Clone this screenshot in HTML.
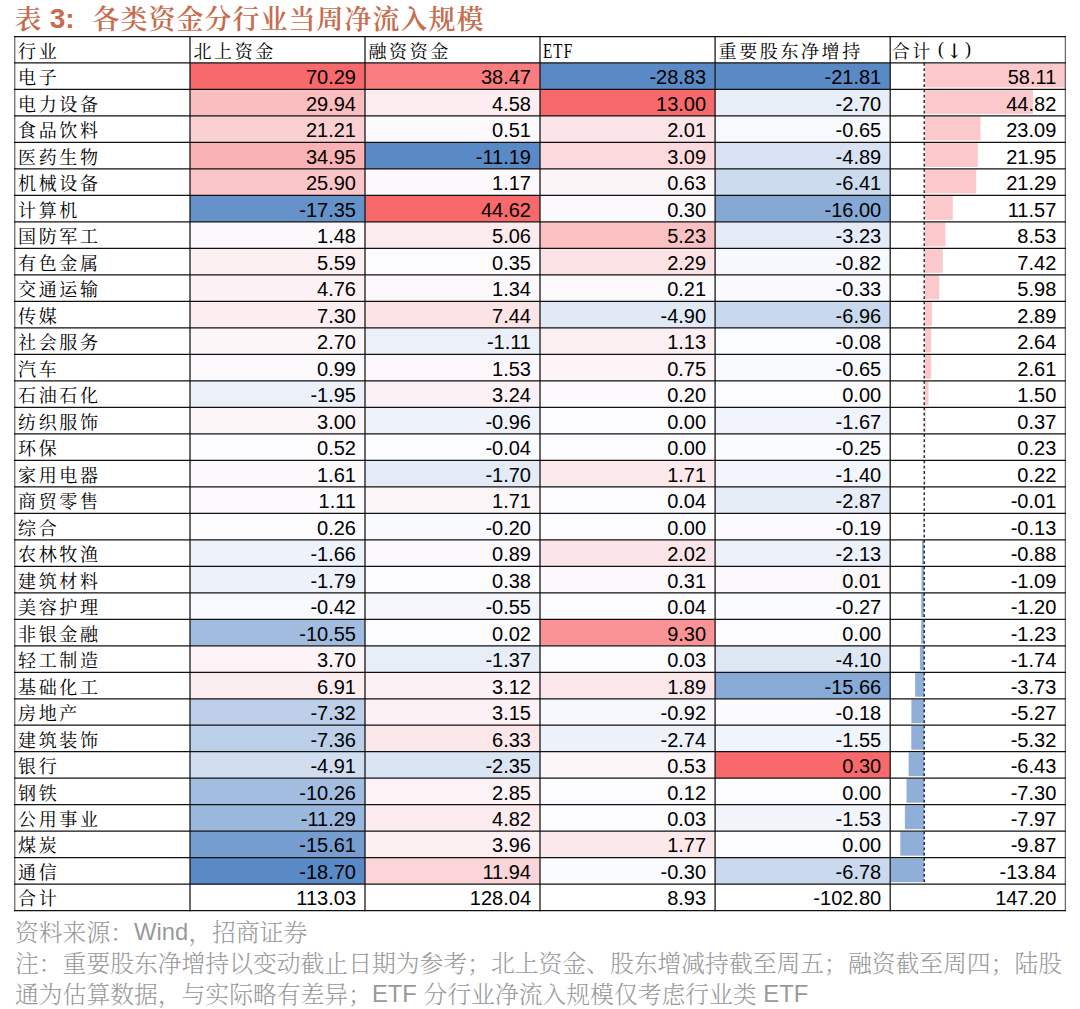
<!DOCTYPE html>
<html lang="zh-CN"><head><meta charset="utf-8"><title>表3 各类资金分行业当周净流入规模</title>
<style>
html,body{margin:0;padding:0;background:#fff;}
body{width:1080px;height:1009px;overflow:hidden;position:relative;}
svg{position:absolute;left:0;top:0;}
.h{font-family:"Liberation Serif","Noto Serif CJK SC",serif;font-size:18px;fill:#000;letter-spacing:2.6px;}
.e{font-family:"Liberation Serif",serif;font-size:20px;fill:#000;}
.p{font-family:"Liberation Serif",serif;font-size:18px;fill:#000;}
.ar{font-family:"DejaVu Serif",serif;font-size:20px;fill:#000;}
.n{font-family:"Liberation Sans",Arial,sans-serif;font-size:20px;fill:#000;text-anchor:end;}
.t{font-family:"Liberation Sans","Noto Serif CJK SC",serif;font-size:28px;fill:#c76c4e;font-weight:600;}
.f{font-family:"Liberation Sans","Noto Serif CJK SC",serif;font-size:23.8px;fill:#999999;font-weight:300;}
.fl{font-weight:400;fill:#999999;}
</style></head><body>
<svg width="1080" height="1009" viewBox="0 0 1080 1009">
<rect x="190.00" y="62.99" width="175.00" height="26.49" fill="#f8696b"/>
<rect x="190.00" y="89.48" width="175.00" height="26.49" fill="#fabdc0"/>
<rect x="190.00" y="115.97" width="175.00" height="26.49" fill="#fbd0d2"/>
<rect x="190.00" y="142.46" width="175.00" height="26.49" fill="#fab3b5"/>
<rect x="190.00" y="168.95" width="175.00" height="26.49" fill="#fbc6c8"/>
<rect x="190.00" y="195.44" width="175.00" height="26.49" fill="#6692ca"/>
<rect x="190.00" y="221.93" width="175.00" height="26.49" fill="#fcf9fc"/>
<rect x="190.00" y="248.42" width="175.00" height="26.49" fill="#fcf0f3"/>
<rect x="190.00" y="274.91" width="175.00" height="26.49" fill="#fcf2f5"/>
<rect x="190.00" y="301.40" width="175.00" height="26.49" fill="#fcedf0"/>
<rect x="190.00" y="327.89" width="175.00" height="26.49" fill="#fcf6f9"/>
<rect x="190.00" y="354.38" width="175.00" height="26.49" fill="#fcfafd"/>
<rect x="190.00" y="380.87" width="175.00" height="26.49" fill="#ebf0f9"/>
<rect x="190.00" y="407.36" width="175.00" height="26.49" fill="#fcf6f9"/>
<rect x="190.00" y="433.85" width="175.00" height="26.49" fill="#fcfbfe"/>
<rect x="190.00" y="460.34" width="175.00" height="26.49" fill="#fcf9fc"/>
<rect x="190.00" y="486.83" width="175.00" height="26.49" fill="#fcfafd"/>
<rect x="190.00" y="513.32" width="175.00" height="26.49" fill="#fcfbfe"/>
<rect x="190.00" y="539.81" width="175.00" height="26.49" fill="#eef2fa"/>
<rect x="190.00" y="566.30" width="175.00" height="26.49" fill="#ecf1fa"/>
<rect x="190.00" y="592.79" width="175.00" height="26.49" fill="#f8f9fe"/>
<rect x="190.00" y="619.28" width="175.00" height="26.49" fill="#a1bcdf"/>
<rect x="190.00" y="645.77" width="175.00" height="26.49" fill="#fcf4f7"/>
<rect x="190.00" y="672.26" width="175.00" height="26.49" fill="#fceef0"/>
<rect x="190.00" y="698.75" width="175.00" height="26.49" fill="#bdcfe9"/>
<rect x="190.00" y="725.24" width="175.00" height="26.49" fill="#bccfe9"/>
<rect x="190.00" y="751.73" width="175.00" height="26.49" fill="#d1def0"/>
<rect x="190.00" y="778.22" width="175.00" height="26.49" fill="#a3bde0"/>
<rect x="190.00" y="804.71" width="175.00" height="26.49" fill="#9ab7dd"/>
<rect x="190.00" y="831.20" width="175.00" height="26.49" fill="#759dcf"/>
<rect x="190.00" y="857.69" width="175.00" height="26.49" fill="#5a8ac6"/>
<rect x="365.00" y="62.99" width="175.00" height="26.49" fill="#f97d7f"/>
<rect x="365.00" y="89.48" width="175.00" height="26.49" fill="#fcedf0"/>
<rect x="365.00" y="115.97" width="175.00" height="26.49" fill="#fcfafd"/>
<rect x="365.00" y="142.46" width="175.00" height="26.49" fill="#5a8ac6"/>
<rect x="365.00" y="168.95" width="175.00" height="26.49" fill="#fcf8fb"/>
<rect x="365.00" y="195.44" width="175.00" height="26.49" fill="#f8696b"/>
<rect x="365.00" y="221.93" width="175.00" height="26.49" fill="#fcebee"/>
<rect x="365.00" y="248.42" width="175.00" height="26.49" fill="#fcfbfe"/>
<rect x="365.00" y="274.91" width="175.00" height="26.49" fill="#fcf8fb"/>
<rect x="365.00" y="301.40" width="175.00" height="26.49" fill="#fbe3e6"/>
<rect x="365.00" y="327.89" width="175.00" height="26.49" fill="#ecf1f9"/>
<rect x="365.00" y="354.38" width="175.00" height="26.49" fill="#fcf7fa"/>
<rect x="365.00" y="380.87" width="175.00" height="26.49" fill="#fcf1f4"/>
<rect x="365.00" y="407.36" width="175.00" height="26.49" fill="#eef2fa"/>
<rect x="365.00" y="433.85" width="175.00" height="26.49" fill="#fbfcff"/>
<rect x="365.00" y="460.34" width="175.00" height="26.49" fill="#e3ebf6"/>
<rect x="365.00" y="486.83" width="175.00" height="26.49" fill="#fcf6f9"/>
<rect x="365.00" y="513.32" width="175.00" height="26.49" fill="#f9fafe"/>
<rect x="365.00" y="539.81" width="175.00" height="26.49" fill="#fcf9fc"/>
<rect x="365.00" y="566.30" width="175.00" height="26.49" fill="#fcfbfe"/>
<rect x="365.00" y="592.79" width="175.00" height="26.49" fill="#f4f6fc"/>
<rect x="365.00" y="619.28" width="175.00" height="26.49" fill="#fcfcff"/>
<rect x="365.00" y="645.77" width="175.00" height="26.49" fill="#e8eef8"/>
<rect x="365.00" y="672.26" width="175.00" height="26.49" fill="#fcf2f5"/>
<rect x="365.00" y="698.75" width="175.00" height="26.49" fill="#fcf2f5"/>
<rect x="365.00" y="725.24" width="175.00" height="26.49" fill="#fbe7ea"/>
<rect x="365.00" y="751.73" width="175.00" height="26.49" fill="#dae4f3"/>
<rect x="365.00" y="778.22" width="175.00" height="26.49" fill="#fcf3f6"/>
<rect x="365.00" y="804.71" width="175.00" height="26.49" fill="#fcecef"/>
<rect x="365.00" y="831.20" width="175.00" height="26.49" fill="#fceff2"/>
<rect x="365.00" y="857.69" width="175.00" height="26.49" fill="#fbd5d7"/>
<rect x="540.00" y="62.99" width="175.10" height="26.49" fill="#5a8ac6"/>
<rect x="540.00" y="89.48" width="175.10" height="26.49" fill="#f8696b"/>
<rect x="540.00" y="115.97" width="175.10" height="26.49" fill="#fbe5e8"/>
<rect x="540.00" y="142.46" width="175.10" height="26.49" fill="#fbd9dc"/>
<rect x="540.00" y="168.95" width="175.10" height="26.49" fill="#fcf5f8"/>
<rect x="540.00" y="195.44" width="175.10" height="26.49" fill="#fcf9fc"/>
<rect x="540.00" y="221.93" width="175.10" height="26.49" fill="#fac1c3"/>
<rect x="540.00" y="248.42" width="175.10" height="26.49" fill="#fbe2e5"/>
<rect x="540.00" y="274.91" width="175.10" height="26.49" fill="#fcfafd"/>
<rect x="540.00" y="301.40" width="175.10" height="26.49" fill="#e0e9f5"/>
<rect x="540.00" y="327.89" width="175.10" height="26.49" fill="#fceff2"/>
<rect x="540.00" y="354.38" width="175.10" height="26.49" fill="#fcf4f6"/>
<rect x="540.00" y="380.87" width="175.10" height="26.49" fill="#fcfafd"/>
<rect x="540.00" y="407.36" width="175.10" height="26.49" fill="#fcfcff"/>
<rect x="540.00" y="433.85" width="175.10" height="26.49" fill="#fcfcff"/>
<rect x="540.00" y="460.34" width="175.10" height="26.49" fill="#fbe9ec"/>
<rect x="540.00" y="486.83" width="175.10" height="26.49" fill="#fcfcff"/>
<rect x="540.00" y="513.32" width="175.10" height="26.49" fill="#fcfcff"/>
<rect x="540.00" y="539.81" width="175.10" height="26.49" fill="#fbe5e8"/>
<rect x="540.00" y="566.30" width="175.10" height="26.49" fill="#fcf8fb"/>
<rect x="540.00" y="592.79" width="175.10" height="26.49" fill="#fcfcff"/>
<rect x="540.00" y="619.28" width="175.10" height="26.49" fill="#f99395"/>
<rect x="540.00" y="645.77" width="175.10" height="26.49" fill="#fcfcff"/>
<rect x="540.00" y="672.26" width="175.10" height="26.49" fill="#fbe7e9"/>
<rect x="540.00" y="698.75" width="175.10" height="26.49" fill="#f7f8fd"/>
<rect x="540.00" y="725.24" width="175.10" height="26.49" fill="#edf1fa"/>
<rect x="540.00" y="751.73" width="175.10" height="26.49" fill="#fcf6f9"/>
<rect x="540.00" y="778.22" width="175.10" height="26.49" fill="#fcfbfe"/>
<rect x="540.00" y="804.71" width="175.10" height="26.49" fill="#fcfcff"/>
<rect x="540.00" y="831.20" width="175.10" height="26.49" fill="#fbe8eb"/>
<rect x="540.00" y="857.69" width="175.10" height="26.49" fill="#fafbfe"/>
<rect x="715.10" y="62.99" width="175.10" height="26.49" fill="#5a8ac6"/>
<rect x="715.10" y="89.48" width="175.10" height="26.49" fill="#e8eef8"/>
<rect x="715.10" y="115.97" width="175.10" height="26.49" fill="#f7f9fd"/>
<rect x="715.10" y="142.46" width="175.10" height="26.49" fill="#d8e2f2"/>
<rect x="715.10" y="168.95" width="175.10" height="26.49" fill="#ccdaee"/>
<rect x="715.10" y="195.44" width="175.10" height="26.49" fill="#85a8d5"/>
<rect x="715.10" y="221.93" width="175.10" height="26.49" fill="#e4ebf7"/>
<rect x="715.10" y="248.42" width="175.10" height="26.49" fill="#f6f8fd"/>
<rect x="715.10" y="274.91" width="175.10" height="26.49" fill="#fafafe"/>
<rect x="715.10" y="301.40" width="175.10" height="26.49" fill="#c8d8ed"/>
<rect x="715.10" y="327.89" width="175.10" height="26.49" fill="#fbfcff"/>
<rect x="715.10" y="354.38" width="175.10" height="26.49" fill="#f7f9fd"/>
<rect x="715.10" y="380.87" width="175.10" height="26.49" fill="#fcfcff"/>
<rect x="715.10" y="407.36" width="175.10" height="26.49" fill="#f0f3fb"/>
<rect x="715.10" y="433.85" width="175.10" height="26.49" fill="#fafbfe"/>
<rect x="715.10" y="460.34" width="175.10" height="26.49" fill="#f2f5fb"/>
<rect x="715.10" y="486.83" width="175.10" height="26.49" fill="#e7edf7"/>
<rect x="715.10" y="513.32" width="175.10" height="26.49" fill="#fbfbff"/>
<rect x="715.10" y="539.81" width="175.10" height="26.49" fill="#ecf1f9"/>
<rect x="715.10" y="566.30" width="175.10" height="26.49" fill="#fcf7fa"/>
<rect x="715.10" y="592.79" width="175.10" height="26.49" fill="#fafbfe"/>
<rect x="715.10" y="619.28" width="175.10" height="26.49" fill="#fcfcff"/>
<rect x="715.10" y="645.77" width="175.10" height="26.49" fill="#dee7f4"/>
<rect x="715.10" y="672.26" width="175.10" height="26.49" fill="#88aad6"/>
<rect x="715.10" y="698.75" width="175.10" height="26.49" fill="#fbfbff"/>
<rect x="715.10" y="725.24" width="175.10" height="26.49" fill="#f0f4fb"/>
<rect x="715.10" y="751.73" width="175.10" height="26.49" fill="#f8696b"/>
<rect x="715.10" y="778.22" width="175.10" height="26.49" fill="#fcfcff"/>
<rect x="715.10" y="804.71" width="175.10" height="26.49" fill="#f1f4fb"/>
<rect x="715.10" y="831.20" width="175.10" height="26.49" fill="#fcfcff"/>
<rect x="715.10" y="857.69" width="175.10" height="26.49" fill="#cad9ed"/>
<rect x="924.90" y="63.69" width="140.05" height="23.79" fill="#fbc9cc"/>
<rect x="924.90" y="90.18" width="108.02" height="23.79" fill="#fbc9cc"/>
<rect x="924.90" y="116.67" width="55.65" height="23.79" fill="#fbc9cc"/>
<rect x="924.90" y="143.16" width="52.90" height="23.79" fill="#fbc9cc"/>
<rect x="924.90" y="169.65" width="51.31" height="23.79" fill="#fbc9cc"/>
<rect x="924.90" y="196.14" width="27.88" height="23.79" fill="#fbc9cc"/>
<rect x="924.90" y="222.63" width="20.56" height="23.79" fill="#fbc9cc"/>
<rect x="924.90" y="249.12" width="17.88" height="23.79" fill="#fbc9cc"/>
<rect x="924.90" y="275.61" width="14.41" height="23.79" fill="#fbc9cc"/>
<rect x="924.90" y="302.10" width="6.96" height="23.79" fill="#fbc9cc"/>
<rect x="924.90" y="328.59" width="6.36" height="23.79" fill="#fbc9cc"/>
<rect x="924.90" y="355.08" width="6.29" height="23.79" fill="#fbc9cc"/>
<rect x="924.90" y="381.57" width="3.62" height="23.79" fill="#fbc9cc"/>
<rect x="924.90" y="408.06" width="0.89" height="23.79" fill="#fbc9cc"/>
<rect x="924.90" y="434.55" width="0.55" height="23.79" fill="#fbc9cc"/>
<rect x="924.90" y="461.04" width="0.53" height="23.79" fill="#fbc9cc"/>
<rect x="924.08" y="487.53" width="0.02" height="23.79" fill="#8fafd9"/>
<rect x="923.79" y="514.02" width="0.31" height="23.79" fill="#8fafd9"/>
<rect x="921.98" y="540.51" width="2.12" height="23.79" fill="#8fafd9"/>
<rect x="921.47" y="567.00" width="2.63" height="23.79" fill="#8fafd9"/>
<rect x="921.21" y="593.49" width="2.89" height="23.79" fill="#8fafd9"/>
<rect x="921.14" y="619.98" width="2.96" height="23.79" fill="#8fafd9"/>
<rect x="919.91" y="646.47" width="4.19" height="23.79" fill="#8fafd9"/>
<rect x="915.11" y="672.96" width="8.99" height="23.79" fill="#8fafd9"/>
<rect x="911.40" y="699.45" width="12.70" height="23.79" fill="#8fafd9"/>
<rect x="911.28" y="725.94" width="12.82" height="23.79" fill="#8fafd9"/>
<rect x="908.60" y="752.43" width="15.50" height="23.79" fill="#8fafd9"/>
<rect x="906.51" y="778.92" width="17.59" height="23.79" fill="#8fafd9"/>
<rect x="904.89" y="805.41" width="19.21" height="23.79" fill="#8fafd9"/>
<rect x="900.31" y="831.90" width="23.79" height="23.79" fill="#8fafd9"/>
<rect x="890.75" y="858.39" width="33.35" height="23.79" fill="#8fafd9"/>
<line x1="924.2" y1="62.99" x2="924.2" y2="884.18" stroke="#000" stroke-width="1.2" stroke-dasharray="2.8 2.5"/>
<line x1="13.97" y1="36.50" x2="1065.92" y2="36.50" stroke="#111" stroke-width="1.25"/>
<line x1="13.97" y1="62.99" x2="1065.92" y2="62.99" stroke="#111" stroke-width="1.25"/>
<line x1="13.97" y1="89.48" x2="1065.92" y2="89.48" stroke="#111" stroke-width="1.25"/>
<line x1="13.97" y1="115.97" x2="1065.92" y2="115.97" stroke="#111" stroke-width="1.25"/>
<line x1="13.97" y1="142.46" x2="1065.92" y2="142.46" stroke="#111" stroke-width="1.25"/>
<line x1="13.97" y1="168.95" x2="1065.92" y2="168.95" stroke="#111" stroke-width="1.25"/>
<line x1="13.97" y1="195.44" x2="1065.92" y2="195.44" stroke="#111" stroke-width="1.25"/>
<line x1="13.97" y1="221.93" x2="1065.92" y2="221.93" stroke="#111" stroke-width="1.25"/>
<line x1="13.97" y1="248.42" x2="1065.92" y2="248.42" stroke="#111" stroke-width="1.25"/>
<line x1="13.97" y1="274.91" x2="1065.92" y2="274.91" stroke="#111" stroke-width="1.25"/>
<line x1="13.97" y1="301.40" x2="1065.92" y2="301.40" stroke="#111" stroke-width="1.25"/>
<line x1="13.97" y1="327.89" x2="1065.92" y2="327.89" stroke="#111" stroke-width="1.25"/>
<line x1="13.97" y1="354.38" x2="1065.92" y2="354.38" stroke="#111" stroke-width="1.25"/>
<line x1="13.97" y1="380.87" x2="1065.92" y2="380.87" stroke="#111" stroke-width="1.25"/>
<line x1="13.97" y1="407.36" x2="1065.92" y2="407.36" stroke="#111" stroke-width="1.25"/>
<line x1="13.97" y1="433.85" x2="1065.92" y2="433.85" stroke="#111" stroke-width="1.25"/>
<line x1="13.97" y1="460.34" x2="1065.92" y2="460.34" stroke="#111" stroke-width="1.25"/>
<line x1="13.97" y1="486.83" x2="1065.92" y2="486.83" stroke="#111" stroke-width="1.25"/>
<line x1="13.97" y1="513.32" x2="1065.92" y2="513.32" stroke="#111" stroke-width="1.25"/>
<line x1="13.97" y1="539.81" x2="1065.92" y2="539.81" stroke="#111" stroke-width="1.25"/>
<line x1="13.97" y1="566.30" x2="1065.92" y2="566.30" stroke="#111" stroke-width="1.25"/>
<line x1="13.97" y1="592.79" x2="1065.92" y2="592.79" stroke="#111" stroke-width="1.25"/>
<line x1="13.97" y1="619.28" x2="1065.92" y2="619.28" stroke="#111" stroke-width="1.25"/>
<line x1="13.97" y1="645.77" x2="1065.92" y2="645.77" stroke="#111" stroke-width="1.25"/>
<line x1="13.97" y1="672.26" x2="1065.92" y2="672.26" stroke="#111" stroke-width="1.25"/>
<line x1="13.97" y1="698.75" x2="1065.92" y2="698.75" stroke="#111" stroke-width="1.25"/>
<line x1="13.97" y1="725.24" x2="1065.92" y2="725.24" stroke="#111" stroke-width="1.25"/>
<line x1="13.97" y1="751.73" x2="1065.92" y2="751.73" stroke="#111" stroke-width="1.25"/>
<line x1="13.97" y1="778.22" x2="1065.92" y2="778.22" stroke="#111" stroke-width="1.25"/>
<line x1="13.97" y1="804.71" x2="1065.92" y2="804.71" stroke="#111" stroke-width="1.25"/>
<line x1="13.97" y1="831.20" x2="1065.92" y2="831.20" stroke="#111" stroke-width="1.25"/>
<line x1="13.97" y1="857.69" x2="1065.92" y2="857.69" stroke="#111" stroke-width="1.25"/>
<line x1="13.97" y1="884.18" x2="1065.92" y2="884.18" stroke="#111" stroke-width="1.25"/>
<line x1="13.97" y1="910.67" x2="1065.92" y2="910.67" stroke="#111" stroke-width="1.25"/>
<line x1="14.80" y1="36.00" x2="14.80" y2="911.17" stroke="#111" stroke-width="0.8"/>
<line x1="190.00" y1="36.00" x2="190.00" y2="911.17" stroke="#111" stroke-width="1.25"/>
<line x1="365.00" y1="36.00" x2="365.00" y2="911.17" stroke="#111" stroke-width="1.25"/>
<line x1="540.00" y1="36.00" x2="540.00" y2="911.17" stroke="#111" stroke-width="1.25"/>
<line x1="715.10" y1="36.00" x2="715.10" y2="911.17" stroke="#111" stroke-width="1.25"/>
<line x1="890.20" y1="36.00" x2="890.20" y2="911.17" stroke="#111" stroke-width="1.25"/>
<line x1="1065.30" y1="36.00" x2="1065.30" y2="911.17" stroke="#111" stroke-width="0.8"/>
<text class="h" x="18.10" y="57.79">行业</text>
<text class="h" x="193.50" y="57.79">北上资金</text>
<text class="h" x="368.50" y="57.79">融资资金</text>
<text class="h" x="718.60" y="57.79">重要股东净增持</text>
<text class="h" x="891.70" y="57.79">合计</text>
<text class="e" transform="translate(543.00,57.79) scale(0.76,1)" x="0 13.55 27.37" y="0">ETF</text>
<text class="p" x="938.00" y="54.79">(</text>
<text class="ar" x="946.00" y="57.79">↓</text>
<text class="p" x="965.00" y="54.79">)</text>
<text class="h" x="18.10" y="84.28">电子</text>
<text class="n" x="356.00" y="84.28">70.29</text>
<text class="n" x="531.00" y="84.28">38.47</text>
<text class="n" x="706.10" y="84.28">-28.83</text>
<text class="n" x="881.20" y="84.28">-21.81</text>
<text class="n" x="1056.30" y="84.28">58.11</text>
<text class="h" x="18.10" y="110.77">电力设备</text>
<text class="n" x="356.00" y="110.77">29.94</text>
<text class="n" x="531.00" y="110.77">4.58</text>
<text class="n" x="706.10" y="110.77">13.00</text>
<text class="n" x="881.20" y="110.77">-2.70</text>
<text class="n" x="1056.30" y="110.77">44.82</text>
<text class="h" x="18.10" y="137.26">食品饮料</text>
<text class="n" x="356.00" y="137.26">21.21</text>
<text class="n" x="531.00" y="137.26">0.51</text>
<text class="n" x="706.10" y="137.26">2.01</text>
<text class="n" x="881.20" y="137.26">-0.65</text>
<text class="n" x="1056.30" y="137.26">23.09</text>
<text class="h" x="18.10" y="163.75">医药生物</text>
<text class="n" x="356.00" y="163.75">34.95</text>
<text class="n" x="531.00" y="163.75">-11.19</text>
<text class="n" x="706.10" y="163.75">3.09</text>
<text class="n" x="881.20" y="163.75">-4.89</text>
<text class="n" x="1056.30" y="163.75">21.95</text>
<text class="h" x="18.10" y="190.24">机械设备</text>
<text class="n" x="356.00" y="190.24">25.90</text>
<text class="n" x="531.00" y="190.24">1.17</text>
<text class="n" x="706.10" y="190.24">0.63</text>
<text class="n" x="881.20" y="190.24">-6.41</text>
<text class="n" x="1056.30" y="190.24">21.29</text>
<text class="h" x="18.10" y="216.73">计算机</text>
<text class="n" x="356.00" y="216.73">-17.35</text>
<text class="n" x="531.00" y="216.73">44.62</text>
<text class="n" x="706.10" y="216.73">0.30</text>
<text class="n" x="881.20" y="216.73">-16.00</text>
<text class="n" x="1056.30" y="216.73">11.57</text>
<text class="h" x="18.10" y="243.22">国防军工</text>
<text class="n" x="356.00" y="243.22">1.48</text>
<text class="n" x="531.00" y="243.22">5.06</text>
<text class="n" x="706.10" y="243.22">5.23</text>
<text class="n" x="881.20" y="243.22">-3.23</text>
<text class="n" x="1056.30" y="243.22">8.53</text>
<text class="h" x="18.10" y="269.71">有色金属</text>
<text class="n" x="356.00" y="269.71">5.59</text>
<text class="n" x="531.00" y="269.71">0.35</text>
<text class="n" x="706.10" y="269.71">2.29</text>
<text class="n" x="881.20" y="269.71">-0.82</text>
<text class="n" x="1056.30" y="269.71">7.42</text>
<text class="h" x="18.10" y="296.20">交通运输</text>
<text class="n" x="356.00" y="296.20">4.76</text>
<text class="n" x="531.00" y="296.20">1.34</text>
<text class="n" x="706.10" y="296.20">0.21</text>
<text class="n" x="881.20" y="296.20">-0.33</text>
<text class="n" x="1056.30" y="296.20">5.98</text>
<text class="h" x="18.10" y="322.69">传媒</text>
<text class="n" x="356.00" y="322.69">7.30</text>
<text class="n" x="531.00" y="322.69">7.44</text>
<text class="n" x="706.10" y="322.69">-4.90</text>
<text class="n" x="881.20" y="322.69">-6.96</text>
<text class="n" x="1056.30" y="322.69">2.89</text>
<text class="h" x="18.10" y="349.18">社会服务</text>
<text class="n" x="356.00" y="349.18">2.70</text>
<text class="n" x="531.00" y="349.18">-1.11</text>
<text class="n" x="706.10" y="349.18">1.13</text>
<text class="n" x="881.20" y="349.18">-0.08</text>
<text class="n" x="1056.30" y="349.18">2.64</text>
<text class="h" x="18.10" y="375.67">汽车</text>
<text class="n" x="356.00" y="375.67">0.99</text>
<text class="n" x="531.00" y="375.67">1.53</text>
<text class="n" x="706.10" y="375.67">0.75</text>
<text class="n" x="881.20" y="375.67">-0.65</text>
<text class="n" x="1056.30" y="375.67">2.61</text>
<text class="h" x="18.10" y="402.16">石油石化</text>
<text class="n" x="356.00" y="402.16">-1.95</text>
<text class="n" x="531.00" y="402.16">3.24</text>
<text class="n" x="706.10" y="402.16">0.20</text>
<text class="n" x="881.20" y="402.16">0.00</text>
<text class="n" x="1056.30" y="402.16">1.50</text>
<text class="h" x="18.10" y="428.65">纺织服饰</text>
<text class="n" x="356.00" y="428.65">3.00</text>
<text class="n" x="531.00" y="428.65">-0.96</text>
<text class="n" x="706.10" y="428.65">0.00</text>
<text class="n" x="881.20" y="428.65">-1.67</text>
<text class="n" x="1056.30" y="428.65">0.37</text>
<text class="h" x="18.10" y="455.14">环保</text>
<text class="n" x="356.00" y="455.14">0.52</text>
<text class="n" x="531.00" y="455.14">-0.04</text>
<text class="n" x="706.10" y="455.14">0.00</text>
<text class="n" x="881.20" y="455.14">-0.25</text>
<text class="n" x="1056.30" y="455.14">0.23</text>
<text class="h" x="18.10" y="481.63">家用电器</text>
<text class="n" x="356.00" y="481.63">1.61</text>
<text class="n" x="531.00" y="481.63">-1.70</text>
<text class="n" x="706.10" y="481.63">1.71</text>
<text class="n" x="881.20" y="481.63">-1.40</text>
<text class="n" x="1056.30" y="481.63">0.22</text>
<text class="h" x="18.10" y="508.12">商贸零售</text>
<text class="n" x="356.00" y="508.12">1.11</text>
<text class="n" x="531.00" y="508.12">1.71</text>
<text class="n" x="706.10" y="508.12">0.04</text>
<text class="n" x="881.20" y="508.12">-2.87</text>
<text class="n" x="1056.30" y="508.12">-0.01</text>
<text class="h" x="18.10" y="534.61">综合</text>
<text class="n" x="356.00" y="534.61">0.26</text>
<text class="n" x="531.00" y="534.61">-0.20</text>
<text class="n" x="706.10" y="534.61">0.00</text>
<text class="n" x="881.20" y="534.61">-0.19</text>
<text class="n" x="1056.30" y="534.61">-0.13</text>
<text class="h" x="18.10" y="561.10">农林牧渔</text>
<text class="n" x="356.00" y="561.10">-1.66</text>
<text class="n" x="531.00" y="561.10">0.89</text>
<text class="n" x="706.10" y="561.10">2.02</text>
<text class="n" x="881.20" y="561.10">-2.13</text>
<text class="n" x="1056.30" y="561.10">-0.88</text>
<text class="h" x="18.10" y="587.59">建筑材料</text>
<text class="n" x="356.00" y="587.59">-1.79</text>
<text class="n" x="531.00" y="587.59">0.38</text>
<text class="n" x="706.10" y="587.59">0.31</text>
<text class="n" x="881.20" y="587.59">0.01</text>
<text class="n" x="1056.30" y="587.59">-1.09</text>
<text class="h" x="18.10" y="614.08">美容护理</text>
<text class="n" x="356.00" y="614.08">-0.42</text>
<text class="n" x="531.00" y="614.08">-0.55</text>
<text class="n" x="706.10" y="614.08">0.04</text>
<text class="n" x="881.20" y="614.08">-0.27</text>
<text class="n" x="1056.30" y="614.08">-1.20</text>
<text class="h" x="18.10" y="640.57">非银金融</text>
<text class="n" x="356.00" y="640.57">-10.55</text>
<text class="n" x="531.00" y="640.57">0.02</text>
<text class="n" x="706.10" y="640.57">9.30</text>
<text class="n" x="881.20" y="640.57">0.00</text>
<text class="n" x="1056.30" y="640.57">-1.23</text>
<text class="h" x="18.10" y="667.06">轻工制造</text>
<text class="n" x="356.00" y="667.06">3.70</text>
<text class="n" x="531.00" y="667.06">-1.37</text>
<text class="n" x="706.10" y="667.06">0.03</text>
<text class="n" x="881.20" y="667.06">-4.10</text>
<text class="n" x="1056.30" y="667.06">-1.74</text>
<text class="h" x="18.10" y="693.55">基础化工</text>
<text class="n" x="356.00" y="693.55">6.91</text>
<text class="n" x="531.00" y="693.55">3.12</text>
<text class="n" x="706.10" y="693.55">1.89</text>
<text class="n" x="881.20" y="693.55">-15.66</text>
<text class="n" x="1056.30" y="693.55">-3.73</text>
<text class="h" x="18.10" y="720.04">房地产</text>
<text class="n" x="356.00" y="720.04">-7.32</text>
<text class="n" x="531.00" y="720.04">3.15</text>
<text class="n" x="706.10" y="720.04">-0.92</text>
<text class="n" x="881.20" y="720.04">-0.18</text>
<text class="n" x="1056.30" y="720.04">-5.27</text>
<text class="h" x="18.10" y="746.53">建筑装饰</text>
<text class="n" x="356.00" y="746.53">-7.36</text>
<text class="n" x="531.00" y="746.53">6.33</text>
<text class="n" x="706.10" y="746.53">-2.74</text>
<text class="n" x="881.20" y="746.53">-1.55</text>
<text class="n" x="1056.30" y="746.53">-5.32</text>
<text class="h" x="18.10" y="773.02">银行</text>
<text class="n" x="356.00" y="773.02">-4.91</text>
<text class="n" x="531.00" y="773.02">-2.35</text>
<text class="n" x="706.10" y="773.02">0.53</text>
<text class="n" x="881.20" y="773.02">0.30</text>
<text class="n" x="1056.30" y="773.02">-6.43</text>
<text class="h" x="18.10" y="799.51">钢铁</text>
<text class="n" x="356.00" y="799.51">-10.26</text>
<text class="n" x="531.00" y="799.51">2.85</text>
<text class="n" x="706.10" y="799.51">0.12</text>
<text class="n" x="881.20" y="799.51">0.00</text>
<text class="n" x="1056.30" y="799.51">-7.30</text>
<text class="h" x="18.10" y="826.00">公用事业</text>
<text class="n" x="356.00" y="826.00">-11.29</text>
<text class="n" x="531.00" y="826.00">4.82</text>
<text class="n" x="706.10" y="826.00">0.03</text>
<text class="n" x="881.20" y="826.00">-1.53</text>
<text class="n" x="1056.30" y="826.00">-7.97</text>
<text class="h" x="18.10" y="852.49">煤炭</text>
<text class="n" x="356.00" y="852.49">-15.61</text>
<text class="n" x="531.00" y="852.49">3.96</text>
<text class="n" x="706.10" y="852.49">1.77</text>
<text class="n" x="881.20" y="852.49">0.00</text>
<text class="n" x="1056.30" y="852.49">-9.87</text>
<text class="h" x="18.10" y="878.98">通信</text>
<text class="n" x="356.00" y="878.98">-18.70</text>
<text class="n" x="531.00" y="878.98">11.94</text>
<text class="n" x="706.10" y="878.98">-0.30</text>
<text class="n" x="881.20" y="878.98">-6.78</text>
<text class="n" x="1056.30" y="878.98">-13.84</text>
<text class="h" x="18.10" y="905.47">合计</text>
<text class="n" x="356.00" y="905.47">113.03</text>
<text class="n" x="531.00" y="905.47">128.04</text>
<text class="n" x="706.10" y="905.47">8.93</text>
<text class="n" x="881.20" y="905.47">-102.80</text>
<text class="n" x="1056.30" y="905.47">147.20</text>
<text class="t" x="14.5" y="29" style="font-size:27px">表</text><text class="t" x="49.8" y="28.3" style="font-weight:700">3:</text><text class="t" x="92.5" y="29" style="font-size:27px;letter-spacing:1px">各类资金分行业当周净流入规模</text>
<text class="f" x="15" y="940.7">资料来源：<tspan class="fl" dy="-1">Wind</tspan><tspan dy="1">，招商证券</tspan></text><text class="f" x="15" y="971.7">注：重要股东净增持以变动截止日期为参考；北上资金、股东增减持截至周五；融资截至周四；陆股</text><text class="f" x="15" y="1002.7">通为估算数据，与实际略有差异；<tspan class="fl" dy="-1">ETF </tspan><tspan dy="1">分行业净流入规模仅考虑行业类 </tspan><tspan class="fl" dy="-1">ETF</tspan></text>
</svg>
</body></html>
